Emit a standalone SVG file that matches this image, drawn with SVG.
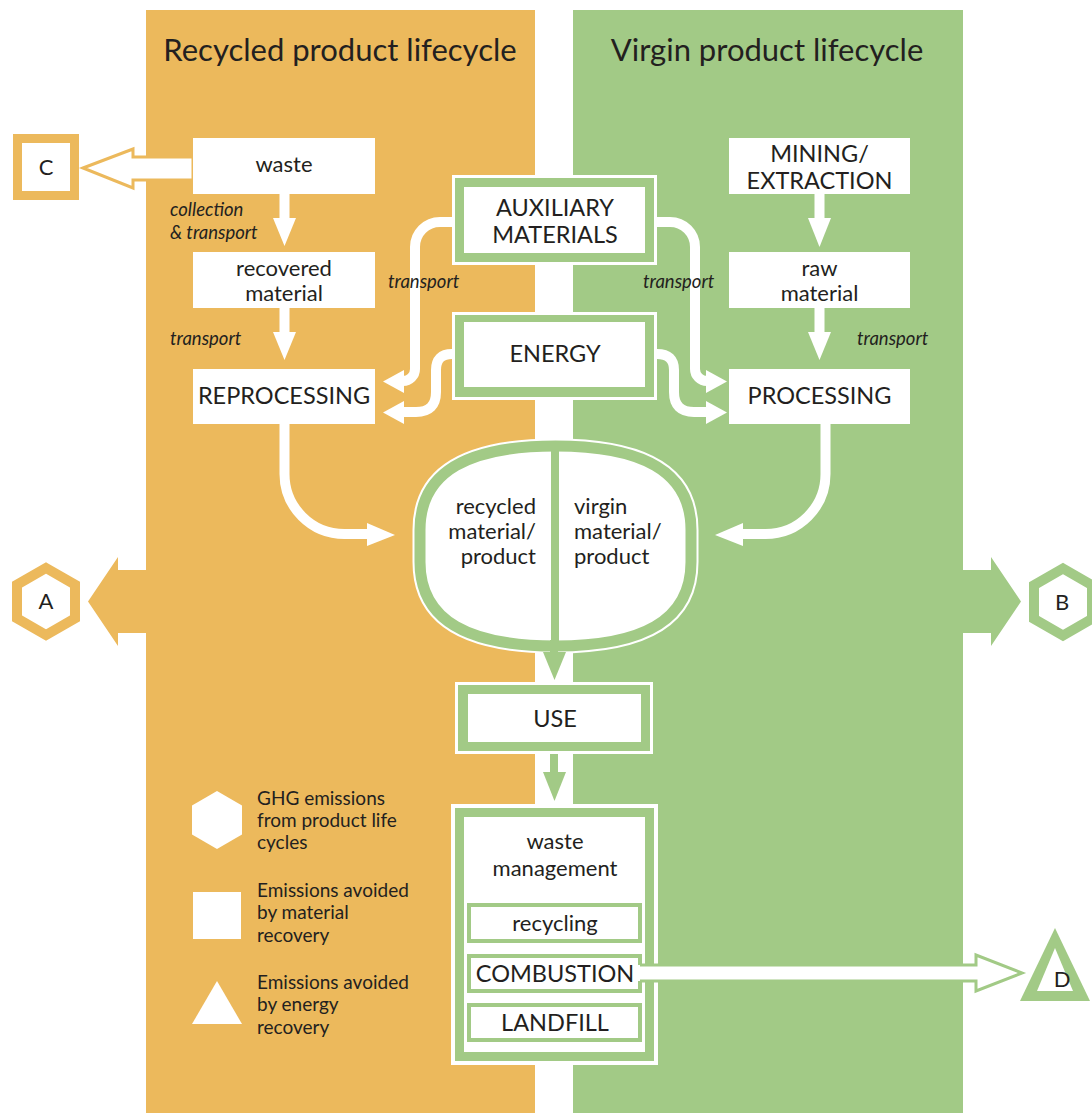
<svg xmlns="http://www.w3.org/2000/svg" width="1092" height="1113" viewBox="0 0 1092 1113">
<style>
.t{font-family:Lato,"Liberation Sans",sans-serif;fill:#231f20;text-anchor:middle}
.b{font-size:22px}
.c{font-size:23.5px}
.h{font-size:31px}
.i{font-family:Lato,"Liberation Sans",sans-serif;fill:#231f20;font-style:italic;font-size:18.5px}
.lg{font-family:Lato,"Liberation Sans",sans-serif;fill:#231f20;font-size:19px}
.or{fill:#ecb95c}
.gr{fill:#a2ca86}
.w{fill:#fff}
.pipe{fill:none;stroke:#fff;stroke-width:10}
</style>
<rect width="1092" height="1113" fill="#fff"/>
<g id="panels">
<rect class="or" x="146" y="10" width="389" height="1103"/>
<rect class="gr" x="573" y="10" width="390" height="1103"/>
<text class="t h" x="340" y="61">Recycled product lifecycle</text>
<text class="t h" x="767" y="61">Virgin product lifecycle</text>
</g>
<g id="connectors">
<polygon points="83,168 133,149 133,157 193,157 193,180 133,180 133,188" fill="#fff" stroke="#ecb95c" stroke-width="3"/>
<rect class="w" x="279.5" y="194" width="10" height="25"/><polygon class="w" points="273,218 296,218 284.5,246"/>
<rect class="w" x="279.5" y="308" width="10" height="25"/><polygon class="w" points="273,332 296,332 284.5,360"/>
<rect class="w" x="814.5" y="194" width="10" height="25"/><polygon class="w" points="808,218 831,218 819.5,247"/>
<rect class="w" x="814.5" y="308" width="10" height="25"/><polygon class="w" points="808,332 831,332 819.5,360"/>
<path class="pipe" d="M452,222 H440 A25,25 0 0 0 415,247 V369 A12,12 0 0 1 403,381"/>
<polygon class="w" points="404,370 404,393 383,381.5"/>
<path class="pipe" d="M452,354 Q436,354 436,370 V392 Q436,412 416,412 H403"/>
<polygon class="w" points="404,401 404,424 383,412.5"/>
<path class="pipe" d="M657,222 H670 A25,25 0 0 1 695,247 V369 A12,12 0 0 0 707,381"/>
<polygon class="w" points="706,370 706,393 727,381.5"/>
<path class="pipe" d="M657,354 Q674,354 674,370 V392 Q674,412 694,412 H707"/>
<polygon class="w" points="706,401 706,424 727,412.5"/>
<path class="pipe" d="M284.5,424 V474 A60,60 0 0 0 344.5,534 H368"/>
<polygon class="w" points="367,523 367,546 395,535"/>
<path class="pipe" d="M825.5,424 V474 A60,60 0 0 1 765.5,534 H743"/>
<polygon class="w" points="743,523 743,546 715,535"/>
<polygon class="or" points="146,570 118,570 118,557 88,601.5 118,646 118,633 146,633"/>
<polygon class="gr" points="963,570 991,570 991,557 1021,601.5 991,646 991,633 963,633"/>
<text class="i" x="170" y="216">collection</text>
<text class="i" x="170" y="239">&amp; transport</text>
<text class="i" x="170" y="345">transport</text>
<text class="i" x="388" y="288">transport</text>
<text class="i" x="643" y="288">transport</text>
<text class="i" x="857" y="345">transport</text>
</g>
<g id="C"><rect x="17.5" y="138.5" width="57" height="57" fill="#fff" stroke="#ecb95c" stroke-width="9"/><text class="t" font-size="22" x="46" y="175">C</text></g>
<g id="waste"><rect class="w" x="193" y="138" width="182" height="56"/><text class="t b" x="284" y="172">waste</text></g>
<g id="recovered"><rect class="w" x="193" y="252" width="182" height="56"/><text class="t b" x="284" y="276">recovered</text><text class="t b" x="284" y="301">material</text></g>
<g id="reprocessing"><rect class="w" x="193" y="369" width="182" height="55"/><text class="t c" x="284" y="404">REPROCESSING</text></g>
<g id="mining"><rect class="w" x="729" y="138" width="181" height="56"/><text class="t c" x="819.5" y="162">MINING/</text><text class="t c" x="819.5" y="189">EXTRACTION</text></g>
<g id="raw"><rect class="w" x="729" y="252" width="181" height="56"/><text class="t b" x="819.5" y="276">raw</text><text class="t b" x="819.5" y="301">material</text></g>
<g id="processing"><rect class="w" x="729" y="369" width="181" height="55"/><text class="t c" x="819.5" y="404">PROCESSING</text></g>
<g id="auxiliary"><rect class="w" x="452" y="175" width="205" height="90"/><rect class="gr" x="455" y="178" width="199" height="84"/><rect class="w" x="464" y="187" width="181" height="66"/><text class="t c" x="555" y="216">AUXILIARY</text><text class="t c" x="555" y="243">MATERIALS</text></g>
<g id="energy"><rect class="w" x="452" y="312" width="205" height="88"/><rect class="gr" x="455" y="315" width="199" height="82"/><rect class="w" x="464" y="322" width="181" height="65"/><text class="t c" x="555" y="362">ENERGY</text></g>
<g id="product">
<path d="M555.5,446 C640,446 691,470 691,530 L691,562 C691,622 640,646 555.5,646 C471,646 420,622 420,562 L420,530 C420,470 471,446 555.5,446 Z" fill="none" stroke="#fff" stroke-width="15"/>
<path d="M555.5,446 C640,446 691,470 691,530 L691,562 C691,622 640,646 555.5,646 C471,646 420,622 420,562 L420,530 C420,470 471,446 555.5,446 Z" fill="#fff" stroke="#a2ca86" stroke-width="11"/>
<rect class="gr" x="551" y="446" width="8" height="200"/>
<text class="t b" style="text-anchor:end" x="536" y="514">recycled</text>
<text class="t b" style="text-anchor:end" x="536" y="539">material/</text>
<text class="t b" style="text-anchor:end" x="536" y="564">product</text>
<text class="t b" style="text-anchor:start" x="574" y="514">virgin</text>
<text class="t b" style="text-anchor:start" x="574" y="539">material/</text>
<text class="t b" style="text-anchor:start" x="574" y="564">product</text>
</g>
<g id="flow">
<rect class="gr" x="550" y="640" width="8" height="14"/><polygon class="gr" points="543,652 566,652 554.5,680"/>
<rect class="gr" x="550" y="754" width="8" height="19"/><polygon class="gr" points="543,772 566,772 554.5,801"/>
</g>
<g id="use"><rect class="w" x="455" y="682" width="198" height="72"/><rect class="gr" x="458" y="685" width="192" height="66"/><rect class="w" x="468" y="694" width="173" height="48"/><text class="t c" x="555" y="727">USE</text></g>
<g id="wastemgmt"><rect class="w" x="451" y="804" width="207" height="261"/><rect class="gr" x="455" y="808" width="199" height="253"/><rect class="w" x="464" y="817" width="181" height="235"/>
<text class="t b" x="555" y="849">waste</text><text class="t b" x="555" y="876">management</text>
<rect x="469" y="905" width="171" height="36" fill="#fff" stroke="#a2ca86" stroke-width="4"/><text class="t b" x="555" y="931">recycling</text>
<rect x="469" y="956" width="171" height="35" fill="#fff" stroke="#a2ca86" stroke-width="4"/>
<rect x="469" y="1005" width="171" height="35" fill="#fff" stroke="#a2ca86" stroke-width="4"/><text class="t c" x="555" y="1031">LANDFILL</text>
</g>
<g id="combustion-arrow">
<polygon class="w" points="638,965 976,965 976,955 1022,973 976,991 976,981 638,981"/>
<path d="M640,965 H976 V955 L1022,973 L976,991 V981 H640" fill="none" stroke="#a2ca86" stroke-width="3"/>
<text class="t c" x="555" y="982">COMBUSTION</text>
</g>
<g id="A"><polygon points="46,568 75,584.75 75,618.25 46,635 17,618.25 17,584.75" fill="#fff" stroke="#ecb95c" stroke-width="10"/><text class="t" font-size="22" x="46" y="609">A</text></g>
<g id="B"><polygon points="1063,568.5 1092,585.25 1092,618.75 1063,635.5 1034,618.75 1034,585.25" fill="#fff" stroke="#a2ca86" stroke-width="10"/><text class="t" font-size="22" x="1062" y="610">B</text></g>
<g id="D"><polygon class="gr" points="1055,928 1020,1001 1090,1001"/><polygon class="w" points="1055,948 1037,991 1073,991"/><text class="t" font-size="22" x="1062" y="987">D</text></g>
<g id="legend">
<polygon class="w" points="217,791 242,805.5 242,834.5 217,849 192,834.5 192,805.5"/>
<rect class="w" x="193" y="892" width="48" height="47"/>
<polygon class="w" points="217,981 242,1024 192,1024"/>
<text class="lg" x="257" y="805">GHG emissions</text>
<text class="lg" x="257" y="827">from product life</text>
<text class="lg" x="257" y="849">cycles</text>
<text class="lg" x="257" y="897">Emissions avoided</text>
<text class="lg" x="257" y="919">by material</text>
<text class="lg" x="257" y="942">recovery</text>
<text class="lg" x="257" y="989">Emissions avoided</text>
<text class="lg" x="257" y="1011">by energy</text>
<text class="lg" x="257" y="1034">recovery</text>
</g>
</svg>
